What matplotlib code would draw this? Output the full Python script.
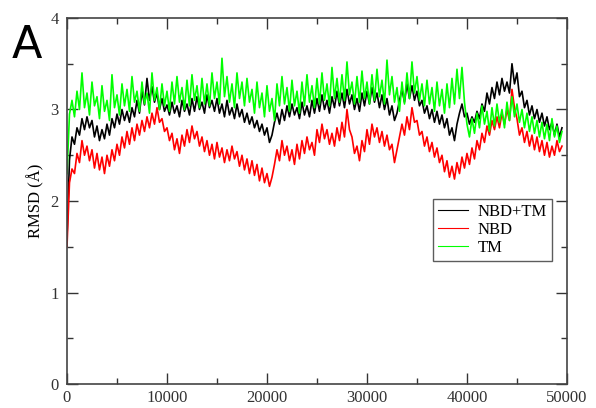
import numpy as np
import matplotlib
matplotlib.use("Agg")
import matplotlib.pyplot as plt
from matplotlib.ticker import MultipleLocator

# time step between samples (ps)
dt = 250

nbd_tm = [
    1.60, 2.45, 2.70, 2.62, 2.80, 2.72, 2.90, 2.78, 2.92, 2.80, 2.88, 2.70, 2.82, 2.66, 2.78, 2.68, 2.84, 2.72, 2.90, 2.80,
    2.95, 2.84, 3.00, 2.88, 2.98, 2.86, 3.02, 2.92, 3.10, 2.96, 3.20, 3.05, 3.34, 3.10, 3.25, 3.08, 3.18, 3.00, 3.12, 2.98,
    3.05, 2.94, 3.08, 2.96, 3.04, 2.92, 3.10, 2.98, 3.06, 2.94, 3.12, 2.98, 3.14, 3.00, 3.08, 2.96, 3.16, 3.02, 3.10, 2.98,
    3.12, 2.96, 3.06, 2.92, 3.10, 2.94, 3.02, 2.90, 3.06, 2.92, 3.00, 2.86, 2.96, 2.84, 2.92, 2.80, 2.88, 2.76, 2.84, 2.72,
    2.80, 2.64, 2.72, 2.86, 2.96, 2.84, 3.00, 2.88, 3.04, 2.92, 3.06, 2.94, 3.02, 2.90, 3.08, 2.94, 3.04, 2.92, 3.10, 2.96,
    3.12, 2.98, 3.16, 3.00, 3.10, 2.96, 3.14, 3.02, 3.20, 3.04, 3.18, 3.02, 3.22, 3.06, 3.16, 3.00, 3.12, 2.98, 3.18, 3.04,
    3.20, 3.06, 3.24, 3.08, 3.18, 3.02, 3.16, 3.00, 3.12, 2.94, 3.04, 2.88, 2.96, 3.10, 3.22, 3.08, 3.28, 3.12, 3.26, 3.10,
    3.20, 3.04, 3.10, 2.96, 3.04, 2.90, 3.00, 2.86, 2.98, 2.84, 2.94, 2.80, 2.90, 2.72, 2.80, 2.66, 2.84, 2.96, 3.06, 2.92,
    2.96, 2.84, 2.92, 2.86, 2.98, 2.90, 3.06, 2.98, 3.18, 3.06, 3.24, 3.12, 3.30, 3.16, 3.34, 3.20, 3.30, 3.18, 3.50, 3.28,
    3.40, 3.14, 3.20, 3.02, 3.10, 2.94, 3.04, 2.90, 3.00, 2.86, 2.96, 2.82, 2.92, 2.78, 2.86, 2.72, 2.84, 2.70, 2.80,
]

nbd = [
    1.50, 2.20, 2.35, 2.30, 2.52, 2.42, 2.66, 2.50, 2.60, 2.44, 2.56, 2.36, 2.52, 2.34, 2.48, 2.30, 2.50, 2.38, 2.56, 2.44,
    2.62, 2.50, 2.70, 2.58, 2.76, 2.62, 2.80, 2.66, 2.84, 2.72, 2.88, 2.76, 2.92, 2.80, 2.96, 2.84, 3.02, 2.86, 2.90, 2.76,
    2.80, 2.66, 2.74, 2.56, 2.68, 2.52, 2.72, 2.60, 2.78, 2.64, 2.82, 2.68, 2.76, 2.60, 2.70, 2.54, 2.66, 2.50, 2.62, 2.46,
    2.64, 2.48, 2.58, 2.42, 2.56, 2.44, 2.60, 2.46, 2.54, 2.38, 2.50, 2.34, 2.46, 2.30, 2.44, 2.28, 2.40, 2.22, 2.36, 2.20,
    2.30, 2.16, 2.26, 2.40, 2.56, 2.44, 2.66, 2.50, 2.60, 2.44, 2.56, 2.40, 2.62, 2.46, 2.66, 2.52, 2.70, 2.56, 2.64, 2.50,
    2.78, 2.64, 2.84, 2.68, 2.78, 2.62, 2.74, 2.60, 2.80, 2.66, 2.86, 2.70, 3.00, 2.78, 2.70, 2.52, 2.60, 2.44, 2.66, 2.54,
    2.78, 2.62, 2.84, 2.70, 2.80, 2.64, 2.76, 2.60, 2.72, 2.56, 2.62, 2.42, 2.56, 2.70, 2.84, 2.72, 2.92, 2.78, 3.02, 2.86,
    2.88, 2.72, 2.76, 2.60, 2.70, 2.54, 2.64, 2.48, 2.58, 2.42, 2.50, 2.32, 2.44, 2.26, 2.38, 2.24, 2.42, 2.30, 2.48, 2.36,
    2.52, 2.40, 2.58, 2.46, 2.66, 2.56, 2.74, 2.64, 2.82, 2.72, 2.88, 2.78, 2.92, 2.80, 2.96, 2.84, 3.00, 2.88, 3.22, 3.02,
    2.90, 2.72, 2.80, 2.64, 2.76, 2.60, 2.72, 2.56, 2.70, 2.54, 2.66, 2.50, 2.64, 2.48, 2.60, 2.50, 2.66, 2.54, 2.60,
]

tm = [
    2.30, 2.95, 3.10, 2.92, 3.20, 3.00, 3.40, 3.02, 3.18, 2.94, 3.30, 3.04, 3.14, 2.90, 3.26, 2.98, 3.10, 2.88, 3.38, 3.02,
    3.16, 2.94, 3.28, 3.04, 3.22, 2.98, 3.36, 3.08, 3.20, 2.98, 3.30, 3.06, 3.18, 2.96, 3.40, 3.10, 3.24, 3.00, 3.28, 3.04,
    3.20, 2.98, 3.30, 3.06, 3.36, 3.08, 3.24, 3.00, 3.32, 3.04, 3.38, 3.10, 3.26, 3.02, 3.34, 3.06, 3.28, 3.04, 3.40, 3.12,
    3.30, 3.06, 3.56, 3.14, 3.36, 3.08, 3.28, 3.02, 3.40, 3.12, 3.30, 3.04, 3.34, 3.08, 3.22, 2.96, 3.30, 3.02, 3.18, 2.92,
    3.26, 2.98, 3.12, 2.88, 3.28, 3.04, 3.36, 3.06, 3.24, 2.98, 3.32, 3.04, 3.20, 2.96, 3.30, 3.04, 3.38, 3.08, 3.26, 3.02,
    3.34, 3.06, 3.40, 3.10, 3.28, 3.04, 3.46, 3.12, 3.34, 3.08, 3.38, 3.10, 3.52, 3.16, 3.30, 3.06, 3.36, 3.08, 3.42, 3.12,
    3.30, 3.06, 3.38, 3.10, 3.44, 3.14, 3.32, 3.06, 3.54, 3.16, 3.36, 3.08, 3.24, 2.98, 3.30, 3.06, 3.40, 3.12, 3.52, 3.18,
    3.36, 3.10, 3.28, 3.04, 3.32, 3.06, 3.24, 2.98, 3.30, 3.04, 3.22, 2.96, 3.28, 3.02, 3.34, 3.06, 3.44, 3.12, 3.46, 3.08,
    2.84, 2.70, 2.90, 2.74, 2.96, 2.80, 3.04, 2.84, 2.98, 2.76, 3.02, 2.82, 3.06, 2.86, 3.00, 2.80, 3.08, 2.88, 3.14, 2.92,
    3.06, 2.86, 3.00, 2.80, 2.96, 2.76, 2.92, 2.74, 2.88, 2.70, 2.86, 2.68, 2.84, 2.66, 2.90, 2.70, 2.82, 2.64, 2.76,
]

labels = ["NBD+TM", "NBD", "TM"]
colors = ["black", "red", "#00ff00"]

t = np.arange(len(nbd_tm)) * dt

plt.rcParams["font.family"] = ["Liberation Serif", "DejaVu Serif"]

fig = plt.figure(figsize=(5.96, 4.08), dpi=100)
ax = fig.add_axes([0.1124, 0.0588, 0.8389, 0.8971])

for y, c, lab in zip([nbd_tm, nbd, tm], colors, labels):
    ax.plot(t, y, color=c, lw=1.2, label=lab)

ax.set_xlim(0, 50000)
ax.set_ylim(0, 4)
ax.xaxis.set_major_locator(MultipleLocator(10000))
ax.xaxis.set_minor_locator(MultipleLocator(5000))
ax.yaxis.set_major_locator(MultipleLocator(1))
ax.yaxis.set_minor_locator(MultipleLocator(0.5))
ax.tick_params(which="both", direction="in", top=True, right=True,
               labelsize=12, colors="#333333")
ax.tick_params(which="major", length=8, width=1)
ax.tick_params(which="minor", length=4, width=1)
ax.tick_params(axis="y", pad=6)
ax.tick_params(axis="x", pad=4)
for s in ax.spines.values():
    s.set_linewidth(1.2)
    s.set_color("#444444")

ax.set_ylabel("RMSD (Å)", fontsize=12, labelpad=4)

leg = ax.legend(loc="upper left", bbox_to_anchor=(0.732, 0.505), fontsize=12,
                frameon=True, fancybox=False, edgecolor="#333333",
                handlelength=1.8, handletextpad=0.6, borderpad=0.3,
                labelspacing=0.1, borderaxespad=0)
leg.get_frame().set_linewidth(1.0)
for h in leg.get_lines():
    h.set_linewidth(0.8)

fig.text(0.02, 0.858, "A", fontsize=32, family="DejaVu Sans", va="baseline")

fig.savefig("out.png", dpi=100)
